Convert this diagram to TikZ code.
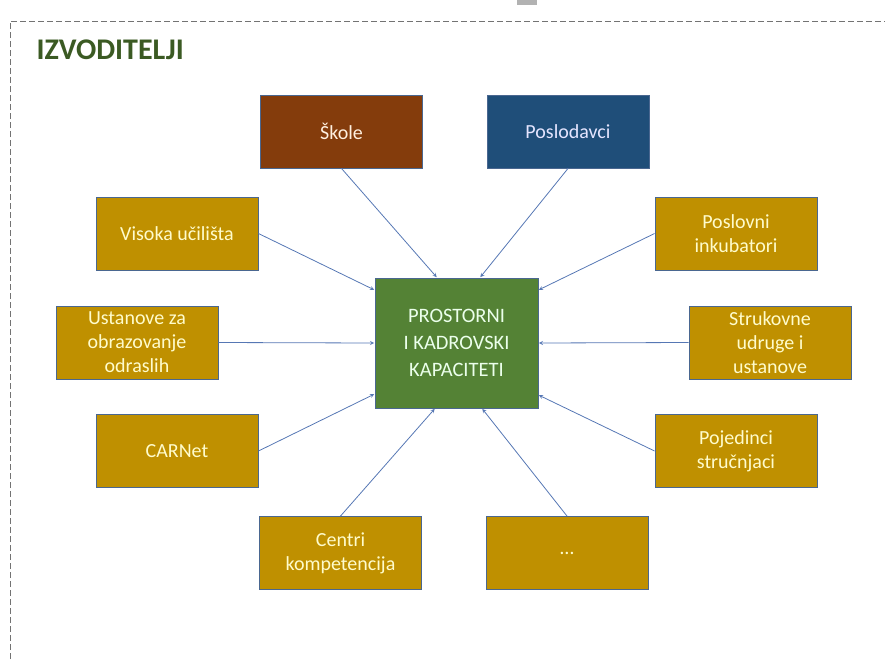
\documentclass[tikz,border=0pt]{standalone}
\usepackage{fontspec}
\setmainfont{Carlito}
\usetikzlibrary{calc}
\definecolor{smeda}{HTML}{843C0C}
\definecolor{plava}{HTML}{1F4E79}
\definecolor{zlatna}{HTML}{BF9000}
\definecolor{zelena}{HTML}{548235}
\definecolor{naslov}{HTML}{3B5A23}
\definecolor{rub}{HTML}{4A6790}
\definecolor{strelica}{HTML}{5677B4}
\begin{document}
\begin{tikzpicture}[x=1pt, y=-1pt,
    kutija/.style={draw=rub, line width=0.9pt, minimum width=162pt, minimum height=73pt,
      inner sep=0pt, align=center, font=\fontsize{20}{24}\selectfont},
    izvod/.style={kutija, fill=zlatna, text=yellow!20},
    veza/.style={->, >=stealth, draw=strelica, line width=0.8pt, shorten >=0.5pt}]
    \useasboundingbox (0,0) rectangle (885,659);
    % okvir
    \draw[gray!90!black, dash pattern=on 6pt off 3pt, line width=0.8pt] (10,659) -- (10,21) -- (885,21);
    \fill[gray!60] (517,0) rectangle (537,5);
    \node[anchor=west, text=naslov, font=\fontsize{30}{36}\bfseries\selectfont] (naslov) at (33,50) {IZVODITELJI};
    % sredina
    \node[kutija, fill=zelena, text=green!8, minimum width=163pt, minimum height=130pt,
      font=\fontsize{20.5}{27}\selectfont] (centar) at (456.5,343) {PROSTORNI\\I KADROVSKI\\KAPACITETI};
    % izvoditelji
    \node[kutija, fill=smeda, text=orange!12] (skole) at (341.5,131.5) {Škole};
    \node[kutija, fill=plava, text=blue!10] (poslodavci) at (568,131.5) {Poslodavci};
    \node[izvod] (visoka) at (177,233.5) {Visoka učilišta};
    \node[izvod] (inkubatori) at (736,233.5) {Poslovni\\inkubatori};
    \node[izvod] (ustanove) at (137,342.5) {Ustanove za\\obrazovanje\\odraslih};
    \node[izvod] (strukovne) at (770,342.5) {Strukovne\\udruge i\\ustanove};
    \node[izvod] (carnet) at (177,451) {CARNet};
    \node[izvod] (pojedinci) at (736,451) {Pojedinci\\stručnjaci};
    \node[izvod] (centri) at (340.5,553) {Centri\\kompetencija};
    \node[izvod] (ostalo) at (567,553) {\dots};
    % strelice
    \draw[veza] (skole.south) -- ($(centar.north)+(-19.5,0)$);
    \draw[veza] (poslodavci.south) -- ($(centar.north)+(23.5,0)$);
    \draw[veza] (visoka.east) -- ($(centar.west)+(0,-53)$);
    \draw[veza] (inkubatori.west) -- ($(centar.east)+(0,-53)$);
    \draw[veza] (ustanove.east) -- (centar.west);
    \draw[veza] (strukovne.west) -- (centar.east);
    \draw[veza] (carnet.east) -- ($(centar.west)+(0,51)$);
    \draw[veza] (pojedinci.west) -- ($(centar.east)+(0,52)$);
    \draw[veza] (centri.north) -- ($(centar.south)+(-21.5,0)$);
    \draw[veza] (ostalo.north) -- ($(centar.south)+(25.5,0)$);
\end{tikzpicture}
\end{document}
